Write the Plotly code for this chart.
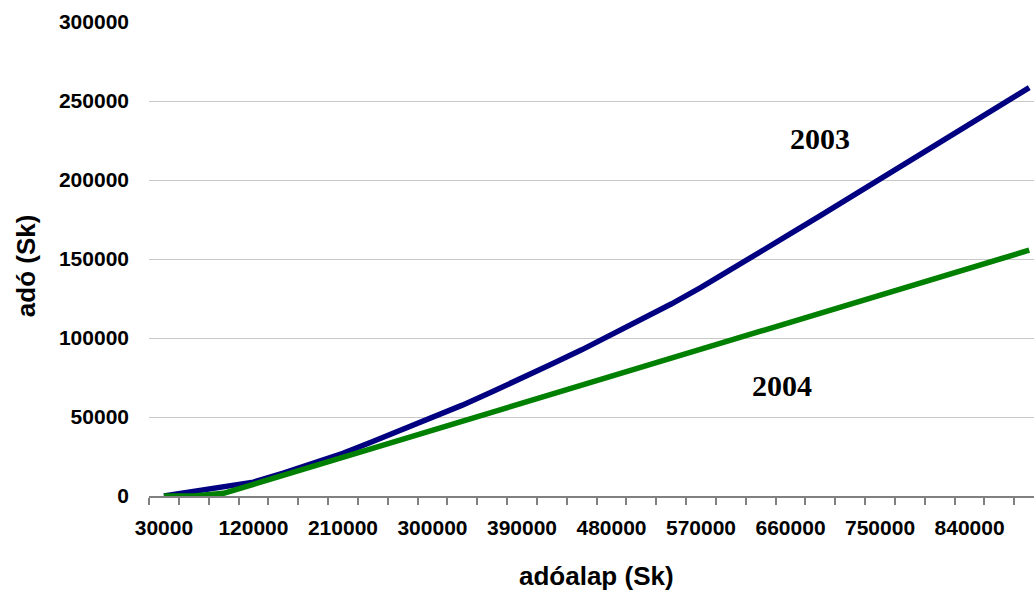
import plotly.graph_objects as go

# tax base categories (Sk)
adoalap = [30000 * (i + 1) for i in range(30)]

# tax due (Sk) per tax base, 2003 progressive scale vs 2004 flat rate
ado_2003 = [0, 2900, 5800, 8800, 14500, 20500, 27000, 34500, 42000, 49500,
            57500, 66000, 74500, 83500, 92500, 102000, 111500, 121500, 132000,
            143000, 154500, 166000, 177500, 189000, 200500, 212000, 223500,
            235000, 246700, 258500]
ado_2004 = [0, 0, 1700, 7400, 13100, 18800, 24500, 30200, 35900, 41600,
            47300, 53000, 58700, 64400, 70100, 75800, 81500, 87200, 92900,
            98600, 104300, 110000, 115700, 121400, 127100, 132800, 138500,
            144200, 149900, 155600]

y_ticks = [0, 50000, 100000, 150000, 200000, 250000, 300000]
y_grid = [50000, 100000, 150000, 200000, 250000]

pos = list(range(len(adoalap)))
label_pos = pos[::3]
label_txt = [str(v) for v in adoalap[::3]]
boundaries = [p - 0.5 for p in pos] + [pos[-1] + 0.5]

sans = "Liberation Sans, Arial, sans-serif"
serif = "Liberation Serif, Times New Roman, serif"

fig = go.Figure()
fig.add_trace(go.Scatter(x=pos, y=ado_2003, mode="lines", name="2003",
                         line=dict(color="#000080", width=5.5)))
fig.add_trace(go.Scatter(x=pos, y=ado_2004, mode="lines", name="2004",
                         line=dict(color="#008000", width=5.5)))

fig.update_layout(
    width=1034, height=596,
    margin=dict(l=149, r=0, t=22, b=100),
    paper_bgcolor="white", plot_bgcolor="white",
    showlegend=False,
    font=dict(family=sans, color="black"),
)

fig.update_xaxes(
    range=[-0.5, 29.16],
    tickmode="array", tickvals=label_pos, ticktext=label_txt,
    ticks="", ticklabelstandoff=12,
    tickfont=dict(family=sans, size=21, color="black", weight="bold"),
    showgrid=False, zeroline=False,
    showline=True, linecolor="#808080", linewidth=2,
    minor=dict(tickmode="array", tickvals=boundaries, ticks="outside",
               ticklen=7, tickwidth=1.5, tickcolor="#808080", showgrid=False),
)

fig.update_yaxes(
    range=[0, 300000],
    tickmode="array", tickvals=y_ticks, ticktext=[str(v) for v in y_ticks],
    ticks="", ticklabelstandoff=19,
    tickfont=dict(family=sans, size=21, color="black", weight="bold"),
    showgrid=False, zeroline=False, showline=False,
    minor=dict(tickmode="array", tickvals=y_grid, ticks="", showgrid=True,
               gridcolor="#c8c8c8", gridwidth=1),
)

fig.add_annotation(text="<b>adóalap (Sk)</b>", xref="paper", yref="paper",
                   x=0.506, y=-0.168, xanchor="center", yanchor="middle",
                   showarrow=False, font=dict(family=sans, size=26, color="black"))
fig.add_annotation(text="<b>adó (Sk)</b>", xref="paper", yref="paper",
                   x=-0.139, y=0.487, xanchor="center", yanchor="middle",
                   textangle=-90, showarrow=False,
                   font=dict(family=sans, size=26, color="black"))
fig.add_annotation(text="<b>2003</b>", xref="paper", yref="paper",
                   x=0.758, y=0.755, xanchor="center", yanchor="middle",
                   showarrow=False, font=dict(family=serif, size=30, color="black"))
fig.add_annotation(text="<b>2004</b>", xref="paper", yref="paper",
                   x=0.715, y=0.234, xanchor="center", yanchor="middle",
                   showarrow=False, font=dict(family=serif, size=30, color="black"))

fig.write_html("out.html")
